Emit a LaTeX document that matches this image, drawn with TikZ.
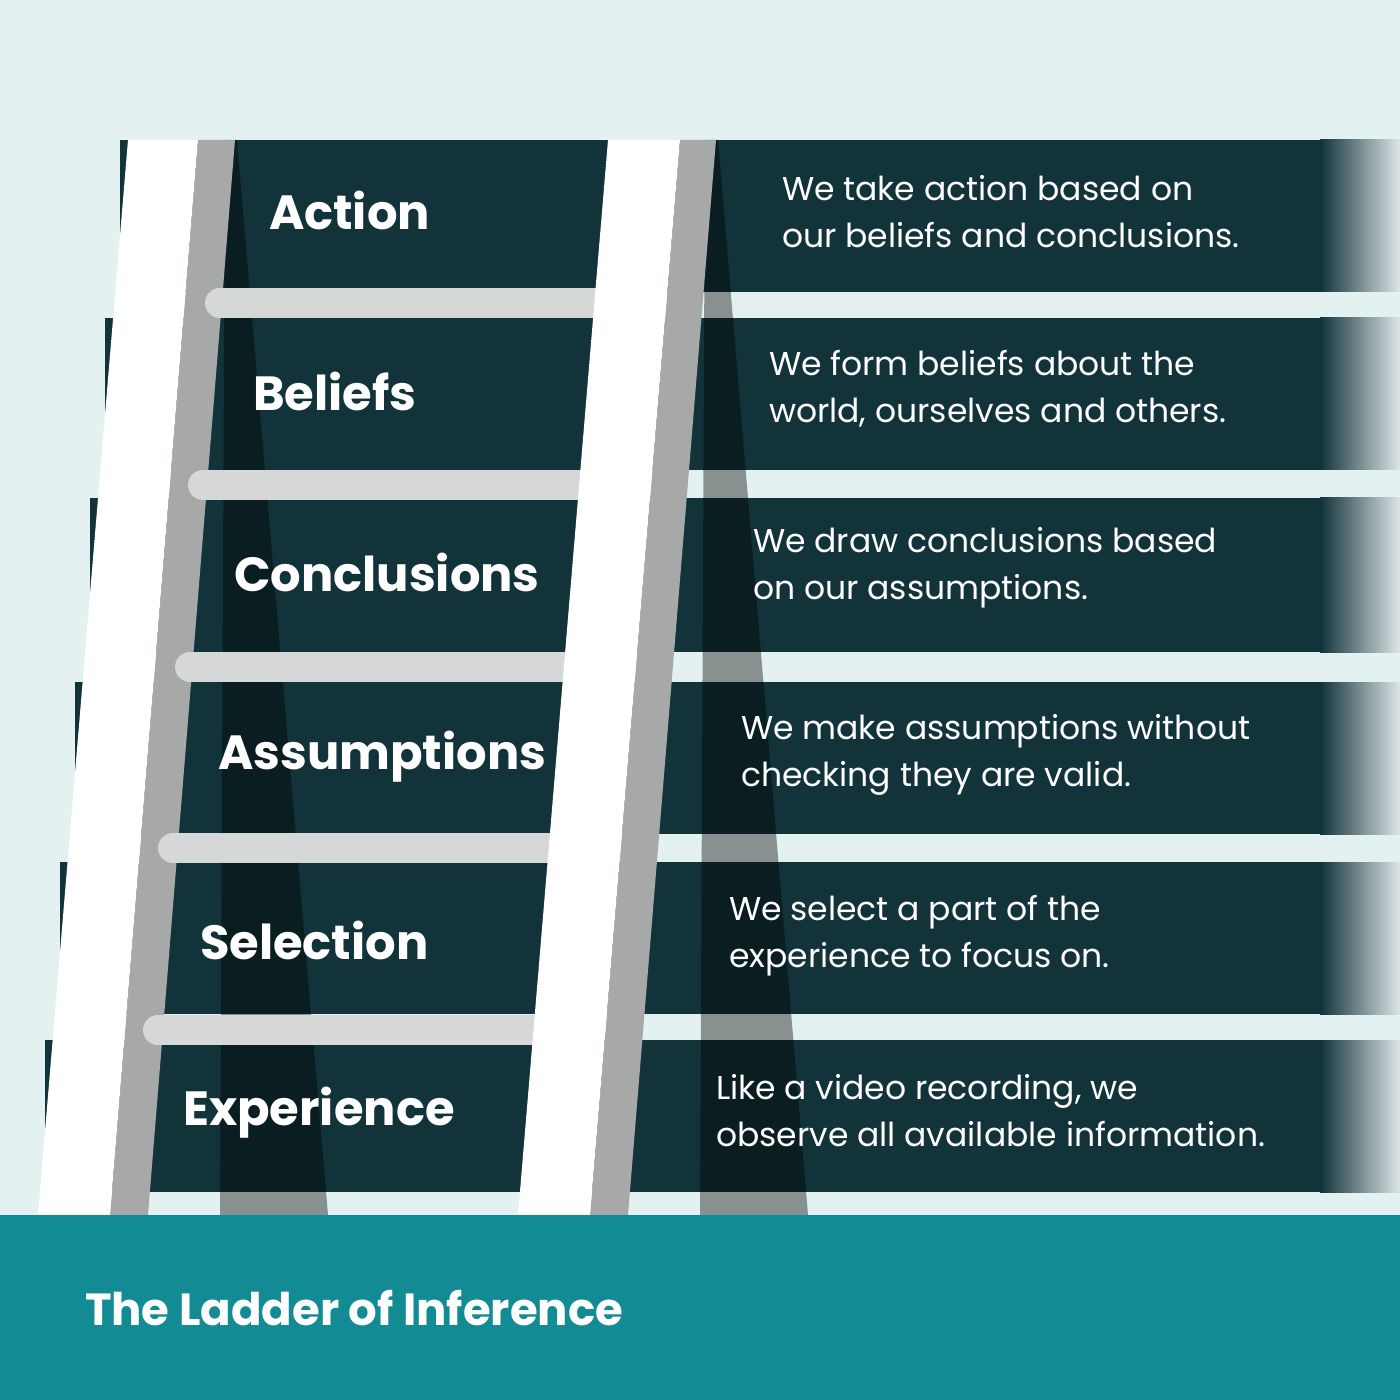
\documentclass[tikz,border=0pt]{standalone}
\usepackage{fontspec}
\setmainfont{Poppins}
\begin{document}
\begin{tikzpicture}[x=0.5pt,y=-0.5pt,
  band/.style={fill=dark,draw=none},
  lbl/.style={anchor=west,text=white,font=\fontsize{24}{28}\selectfont\bfseries},
  dsc/.style={anchor=west,text=white,align=left,font=\fontsize{16.5}{23.5}\selectfont},
  rung/.style={line width=15pt,line cap=round,draw=rungc}]
\definecolor{bg}{HTML}{E3F1F1}
\definecolor{dark}{HTML}{12333A}
\definecolor{teal}{HTML}{138B94}
\definecolor{railg}{HTML}{A7A9A9}
\definecolor{rungc}{HTML}{D6D7D7}
\definecolor{fade}{HTML}{DDE6E6}
\useasboundingbox (0,0) rectangle (1400,1400);
\fill[bg] (0,0) rectangle (1400,1400);
% bands
\foreach \t/\b in {140/292,318/470,498/652,682/834,862/1014,1040/1192}{
  \pgfmathsetmacro{\xl}{128-0.0837*(\b-140)+5}
  \fill[dark] (\xl,\t) rectangle (1322,\b);
  \shade[left color=dark,right color=fade,shading angle=90] (1320,\t) rectangle (1400,\b);
}
% shadows
\fill[black,opacity=0.4] (225,140) -- (237,140) -- (328,1215) -- (220,1215) -- cycle;
\fill[black,opacity=0.4] (705,140) -- (718,140) -- (808,1215) -- (700,1215) -- cycle;
% left rail
\fill[railg] (198,140) -- (235,140) -- (148,1215) -- (110,1215) -- cycle;
\fill[white] (128,140) -- (198,140) -- (110,1215) -- (38,1215) -- cycle;
% rungs
\foreach \y/\xs in {303/205,485/188,667/175,848/158,1030/143}{
  \pgfmathsetmacro{\xr}{608-0.0837*(\y-140)+10}
  \draw[rung] (\xs+15,\y) -- (\xr,\y);
}
% right rail
\fill[railg] (680,140) -- (716,140) -- (628,1215) -- (590,1215) -- cycle;
\fill[white] (608,140) -- (680,140) -- (590,1215) -- (518,1215) -- cycle;
% bottom band
\fill[teal] (0,1215) rectangle (1400,1400);
\node[anchor=west,text=white,font=\fontsize{22.5}{26}\selectfont\bfseries] (title) at (78,1308) {The Ladder of Inference};
% labels
\node[lbl] (l1) at (262,210) {Action};
\node[lbl] (l2) at (246,391) {Beliefs};
\node[lbl] (l3) at (227,572) {Conclusions};
\node[lbl] (l4) at (211,757) {Assumptions};
\node[lbl] (l5) at (193,940) {Selection};
\node[lbl] (l6) at (176,1113) {Experience};
% descriptions
\node[dsc] (d1) at (775,212) {We take action based on\\our beliefs and conclusions.};
\node[dsc] (d2) at (762,389) {We form beliefs about the\\world, ourselves and others.};
\node[dsc] (d3) at (746,568) {We draw conclusions based\\on our assumptions.};
\node[dsc] (d4) at (734,755) {We make assumptions without\\checking they are valid.};
\node[dsc] (d5) at (722,936) {We select a part of the\\experience to focus on.};
\node[dsc] (d6) at (709,1111) {Like a video recording, we\\observe all available information.};
\end{tikzpicture}
\end{document}
